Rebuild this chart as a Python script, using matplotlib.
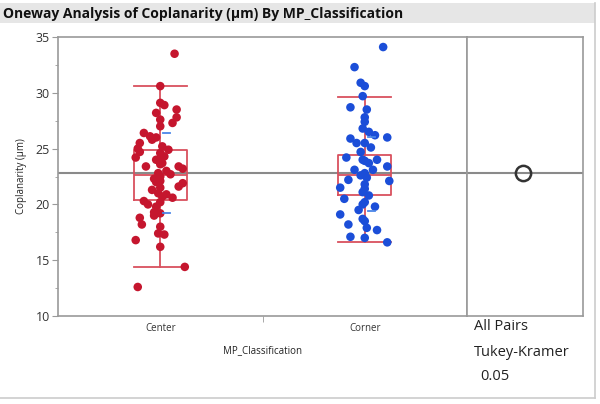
import numpy as np
import matplotlib
matplotlib.use("Agg")
from matplotlib import pyplot as plt
from matplotlib.patches import Rectangle

# data (jitter offsets in category units)
categories = ["Center", "Corner"]

center_y = [33.5, 30.6, 29.1, 28.9, 28.5, 28.2, 27.8, 27.6, 27.3, 27.0, 26.4, 26.1, 26.0,
            25.8, 25.5, 25.0, 24.9, 24.7, 24.6, 24.2, 24.0, 23.9, 23.6, 23.4, 23.4, 23.2,
            23.0, 22.8, 22.7, 22.5, 22.3, 22.0, 21.9, 21.6, 21.3, 21.0, 20.9, 20.6, 20.3,
            20.2, 20.0, 19.8, 19.3, 19.2, 19.0, 18.8, 18.2, 18.0, 17.4, 17.3, 16.8, 16.2,
            14.4, 12.6, 25.2, 24.3, 23.7, 22.1, 21.5, 20.7]
center_dx = [0.07, 0.0, 0.0, 0.02, 0.08, -0.02, 0.08, 0.0, 0.06, 0.0, -0.08, -0.05, -0.02,
             -0.04, -0.10, -0.11, 0.04, -0.10, 0.0, -0.12, -0.02, 0.0, 0.0, -0.07, 0.09, 0.11,
             0.03, -0.01, 0.05, 0.0, -0.03, -0.02, 0.11, 0.09, -0.04, -0.01, 0.03, 0.06, -0.08,
             0.0, -0.06, -0.02, -0.03, 0.0, -0.03, -0.10, -0.09, 0.0, -0.01, 0.02, -0.12, 0.0,
             0.12, -0.11, 0.01, 0.02, 0.01, 0.0, 0.0, 0.01]

corner_y = [34.1, 32.3, 30.9, 30.6, 29.7, 28.7, 28.5, 27.8, 27.4, 26.8, 26.5, 26.2, 26.0,
            25.9, 25.5, 25.5, 25.1, 24.7, 24.2, 24.0, 24.0, 23.7, 23.4, 23.1, 23.1, 22.8,
            22.6, 22.2, 22.1, 21.8, 21.5, 21.1, 20.8, 20.5, 20.2, 19.8, 19.5, 19.1, 18.7,
            18.2, 17.9, 17.7, 17.1, 17.0, 16.6, 23.9, 22.4, 21.4, 20.0, 18.5]
corner_dx = [0.09, -0.05, -0.02, 0.0, -0.01, -0.07, 0.01, 0.0, 0.0, -0.01, 0.02, 0.05, 0.11,
             -0.07, -0.04, 0.0, 0.03, -0.02, -0.09, -0.01, 0.06, 0.02, 0.11, -0.05, 0.04, 0.0,
             -0.02, -0.08, 0.12, 0.0, -0.12, -0.01, 0.02, -0.10, 0.0, 0.05, -0.03, -0.12, -0.01,
             -0.08, 0.01, 0.06, -0.07, 0.0, 0.11, 0.0, 0.01, 0.0, -0.01, 0.0]

# quantile box stats: whislo, q1, med, q3, whishi
center_box = [14.4, 20.4, 22.6, 24.9, 30.6]
corner_box = [16.6, 20.8, 22.6, 24.4, 29.6]
# mean +/- std dev lines
center_sd = [19.2, 26.4]
corner_sd = [19.4, 26.0]
grand_mean = 22.8

red = "#c5162e"
blue = "#1b4ed8"
box_col = "#d9505e"
frame_col = "#9a9a9a"

plt.rcParams["font.family"] = ["Open Sans", "DejaVu Sans"]

fig = plt.figure(figsize=(6.0, 4.04), dpi=100)

# title bar
fig.patches.append(Rectangle((0.0, 1 - 23 / 404), 595 / 600, 20 / 404, transform=fig.transFigure,
                             facecolor="#e6e6e6", edgecolor="none", zorder=0))
fig.text(3 / 600, 1 - 14 / 404, "Oneway Analysis of Coplanarity (µm) By MP_Classification",
         fontsize=10, fontweight="bold", va="center", ha="left", color="#111111")
# outer panel border
fig.add_artist(plt.Line2D([595 / 600, 595 / 600], [1 - 398 / 404, 1 - 3 / 404],
                          transform=fig.transFigure, color="#cccccc", lw=1.2))
fig.add_artist(plt.Line2D([0, 595 / 600], [1 - 398 / 404, 1 - 398 / 404],
                          transform=fig.transFigure, color="#cccccc", lw=1.2))

bottom = 1 - 316 / 404
height = (316 - 37) / 404
ax = fig.add_axes([58 / 600, bottom, (467 - 58) / 600, height])
ax2 = fig.add_axes([467 / 600, bottom, (583 - 467) / 600, height])

ax.set_xlim(-0.5, 1.5)
ax.set_ylim(10, 35)
ax2.set_ylim(10, 35)

ax.axhline(grand_mean, color="#8a8a8a", lw=1.5, zorder=1)
ax2.axhline(grand_mean, color="#8a8a8a", lw=1.5, zorder=1)

ax.scatter(np.array(center_dx) + 0, center_y, s=38, color=red, edgecolors="none", zorder=3)
ax.scatter(np.array(corner_dx) + 1, corner_y, s=38, color=blue, edgecolors="none", zorder=3)

stats = []
for b, lab in zip([center_box, corner_box], categories):
    stats.append(dict(whislo=b[0], q1=b[1], med=b[2], q3=b[3], whishi=b[4], label=lab))
line_kw = dict(color=box_col, lw=1.3)
ax.bxp(stats, positions=[0, 1], widths=0.26, capwidths=0.26, showfliers=False,
       boxprops=line_kw, whiskerprops=line_kw, capprops=line_kw, medianprops=line_kw,
       manage_ticks=False, zorder=2)

# std dev lines
for pos, sd in zip([0, 1], [center_sd, corner_sd]):
    for v in sd:
        ax.plot([pos + 0.015, pos + 0.05], [v, v], color="#4a86e8", lw=1.3, zorder=4)

# comparison circle
ax2.set_xlim(0, 1)
ax2.plot([0.48], [grand_mean], marker="o", ms=11, mfc="none", mec="#333333", mew=1.8, zorder=3)

for a in (ax, ax2):
    for s in a.spines.values():
        s.set_color(frame_col)
        s.set_linewidth(1.2)

ax.set_yticks([10, 15, 20, 25, 30, 35])
ax.set_yticks([12.5, 17.5, 22.5, 27.5, 32.5], minor=True)
ax.tick_params(axis="y", which="major", labelsize=9, length=4, color=frame_col,
               labelcolor="#333333", pad=2)
ax.tick_params(axis="y", which="minor", length=2.5, color=frame_col)
ax.set_xticks([0, 1])
ax.set_xticklabels(categories)
ax.set_xticks([0.5], minor=True)
ax.tick_params(axis="x", which="major", length=0, labelsize=7, labelcolor="#333333", pad=5)
ax.tick_params(axis="x", which="minor", length=4, color=frame_col)
ax.set_ylabel("Coplanarity (µm)", fontsize=7, color="#222222", labelpad=6)
ax.set_xlabel("MP_Classification", fontsize=7, color="#222222", labelpad=8)

ax2.set_yticks([])
ax2.set_xticks([])
ax2.tick_params(which="both", left=False, labelleft=False, bottom=False, labelbottom=False)

fig.text(474 / 600, 1 - 327 / 404, "All Pairs", fontsize=10.5, va="center", ha="left", color="#222222")
fig.text(474 / 600, 1 - 352 / 404, "Tukey-Kramer", fontsize=10.5, va="center", ha="left", color="#222222")
fig.text(480 / 600, 1 - 377 / 404, "0.05", fontsize=10.5, va="center", ha="left", color="#222222")

fig.savefig("out.png", dpi=100)
